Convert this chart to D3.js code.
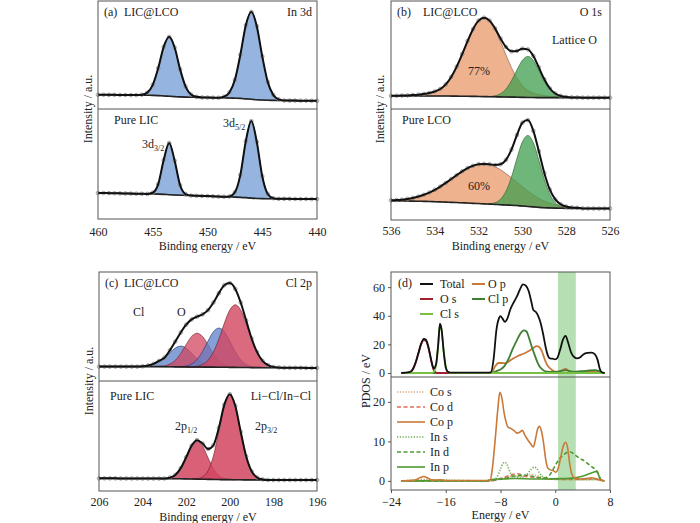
<!DOCTYPE html>
<html><head><meta charset="utf-8">
<script src="https://cdn.jsdelivr.net/npm/d3@7"></script>
<style>body{margin:0;background:#fff}svg{display:block}text{font-family:"Liberation Serif","Times New Roman",serif;fill:#222}</style>
</head><body><svg id="c" width="700" height="523"></svg>
<script>
// ---------- (a) In 3d ----------
const aGrid = [460,459.5,459,458.5,458,457.5,457,456.5,456,455.5,455,454.5,454,453.5,453,452.5,452,451.5,451,450.5,450,449.5,449,448.5,448,447.5,447,446.5,446,445.5,445,444.5,444,443.5,443,442.5,442,441.5,441,440.5,440];
const aTicks = [460,455,450,445,440];
const aTopBg = [13.2,13.2,13.1,13.1,13.0,13.0,12.9,12.9,12.8,12.7,12.6,12.4,12.1,11.8,11.5,11.2,11.0,10.9,10.8,10.7,10.6,10.5,10.4,10.3,10.2,10.0,9.8,9.4,9.0,8.6,8.3,8.1,8.0,7.9,7.9,7.8,7.8,7.7,7.7,7.6,7.6];
const aTop3d32 = [[456,0.45],[455.5,2.5],[455,9.8],[454.5,25.5],[454,45.4],[453.5,55],[453,45.4],[452.5,25.5],[452,9.8],[451.5,2.5],[451,0.45]];
const aTop3d52 = [[448.5,1.05],[448,5.1],[447.5,17],[447,40.5],[446.5,68.1],[446,81],[445.5,68.1],[445,40.5],[444.5,17],[444,5.1],[443.5,1.05]];
const aBotBg = [23.6,23.6,23.5,23.4,23.3,23.2,23.1,23.0,22.9,22.8,22.7,22.6,22.4,22.1,21.8,21.6,21.5,21.3,21.1,21.0,20.8,20.6,20.4,20.2,20.0,19.9,19.7,19.4,19.0,18.7,18.5,18.4,18.4,18.3,18.3,18.3,18.2,18.2,18.2,18.1,18.1];
const aBot3d32 = [[455,1.2],[454.5,9.1],[454,31.2],[453.5,47],[453,31.2],[452.5,9.1],[452,1.2]];
const aBot3d52 = [[448,0.5],[447.5,4.4],[447,20.4],[446.5,51.4],[446,70],[445.5,51.4],[445,20.4],[444.5,4.4],[444,0.5]];

// ---------- (b) O 1s ----------
const bGrid = [536,535.75,535.5,535.25,535,534.75,534.5,534.25,534,533.75,533.5,533.25,533,532.75,532.5,532.25,532,531.75,531.5,531.25,531,530.75,530.5,530.25,530,529.75,529.5,529.25,529,528.75,528.5,528.25,528,527.75,527.5,527.25,527,526.75,526.5,526.25,526];
const bTicks = [536,534,532,530,528,526];
const bTopBg = [12,12,12,12,12,12,12,12,12,12,12,11.95,11.9,11.85,11.8,11.7,11.6,11.5,11.4,11.3,11.2,11.1,11.0,10.9,10.8,10.7,10.6,10.55,10.5,10.5,10.5,10.5,10.5,10.5,10.5,10.5,10.5,10.5,10.5,10.5,10.5];
const bTopSurfO = [[536,0.15],[535.75,0.25],[535.5,0.4],[535.25,0.6],[535,0.9],[534.75,1.3],[534.5,1.9],[534.25,2.8],[534,4.2],[533.75,6.5],[533.5,10.8],[533.25,17.7],[533,27.3],[532.75,38.9],[532.5,51.2],[532.25,62.4],[532,70.2],[531.75,73],[531.5,70.2],[531.25,62.4],[531,51.2],[530.75,38.9],[530.5,27.3],[530.25,17.7],[530,10.8],[529.75,6.5],[529.5,4.2],[529.25,2.8],[529,1.9],[528.75,1.3],[528.5,0.9],[528.25,0.6],[528,0.4],[527.75,0.25],[527.5,0.15]];
const bTopLattO = [[531.5,0.25],[531.25,0.95],[531,2.9],[530.75,7.4],[530.5,15.1],[530.25,25.2],[530,34.3],[529.75,38],[529.5,34.3],[529.25,25.2],[529,15.1],[528.75,7.4],[528.5,2.9],[528.25,0.95],[528,0.25]];
const bBotBg = [17.2,17.2,17.1,17.1,17.0,16.9,16.8,16.7,16.5,16.3,16.1,15.9,15.7,15.5,15.3,15.0,14.8,14.5,14.3,14.0,13.8,13.5,13.3,13.0,12.6,12.2,11.8,11.4,11.1,10.9,10.7,10.6,10.5,10.5,10.5,10.4,10.4,10.4,10.3,10.3,10.3];
const bBotSurfO = [[536,0.5],[535.75,0.8],[535.5,1.2],[535.25,1.9],[535,2.9],[534.75,4.2],[534.5,5.9],[534.25,8.0],[534,10.7],[533.75,13.8],[533.5,17.3],[533.25,21.0],[533,24.7],[532.75,28.3],[532.5,31.5],[532.25,33.9],[532,35.5],[531.75,36],[531.5,35.5],[531.25,33.9],[531,31.5],[530.75,28.3],[530.5,24.7],[530.25,21.0],[530,17.3],[529.75,13.8],[529.5,10.7],[529.25,8.0],[529,5.9],[528.75,4.2],[528.5,2.9],[528.25,1.9],[528,1.2],[527.75,0.8],[527.5,0.5]];
const bBotLattO = [[531.5,0.4],[531.25,1.6],[531,4.9],[530.75,12.4],[530.5,25.4],[530.25,42.5],[530,57.8],[529.75,64],[529.5,57.8],[529.25,42.5],[529,25.4],[528.75,12.4],[528.5,4.9],[528.25,1.6],[528,0.4]];

// ---------- (c) Cl 2p ----------
const cGrid = [206,205.75,205.5,205.25,205,204.75,204.5,204.25,204,203.75,203.5,203.25,203,202.75,202.5,202.25,202,201.75,201.5,201.25,201,200.75,200.5,200.25,200,199.75,199.5,199.25,199,198.75,198.5,198.25,198,197.75,197.5,197.25,197,196.75,196.5,196.25,196];
const cTicks = [206,204,202,200,198,196];
const cTopBg = [13.2,13.2,13.2,13.2,13.2,13.2,13.2,13.2,13.2,13.2,13.2,13.2,13.1,13.1,13.0,13.0,12.9,12.9,12.8,12.8,12.7,12.7,12.6,12.6,12.5,12.5,12.4,12.4,12.3,12.3,12.2,12.2,12.2,12.2,12.1,12.1,12.1,12.1,12.0,12.0,12.0];
const cTopClO1 = [[204,0.3],[203.75,1],[203.5,2.5],[203.25,5],[203,7.5],[202.75,12.6],[202.5,17.2],[202.25,19],[202,17.2],[201.75,12.6],[201.5,7.5],[201.25,3.7],[201,1.5],[200.75,0.5],[200.5,0.1]];
const cTopLi1 = [[203.25,0.2],[203,0.8],[202.75,2.4],[202.5,6.0],[202.25,12.3],[202,20.6],[201.75,28.0],[201.5,31],[201.25,28.0],[201,20.6],[200.75,12.3],[200.5,6.0],[200.25,2.4],[200,0.8],[199.75,0.2]];
const cTopClO2 = [[202.25,0.2],[202,0.9],[201.75,2.8],[201.5,7.0],[201.25,14.3],[201,23.9],[200.75,32.5],[200.5,36],[200.25,32.5],[200,23.9],[199.75,14.3],[199.5,7.0],[199.25,2.8],[199,0.9],[198.75,0.2]];
const cTopLi2 = [[202,0.05],[201.75,0.2],[201.5,0.75],[201.25,2.4],[201,6.3],[200.75,14.0],[200.5,25.9],[200.25,40.4],[200,52.6],[199.75,57.5],[199.5,52.6],[199.25,40.4],[199,25.9],[198.75,14.0],[198.5,6.3],[198.25,2.4],[198,0.75],[197.75,0.2],[197.5,0.05]];
const cBotBg = [11.5,11.5,11.5,11.5,11.4,11.4,11.4,11.4,11.3,11.3,11.3,11.3,11.2,11.2,11.1,11.1,11.0,10.9,10.8,10.7,10.6,10.5,10.4,10.3,10.3,10.2,10.2,10.1,10.1,10.1,10.1,10.0,10.0,10.0,10.0,10.0,10.0,10.0,10.0,10.0,10.0];
const cBot2p12 = [[203.25,0.05],[203,0.2],[202.75,1.0],[202.5,3.5],[202.25,9.7],[202,19.7],[201.75,30.3],[201.5,35],[201.25,30.3],[201,19.7],[200.75,9.7],[200.5,3.5],[200.25,1.0],[200,0.2],[199.75,0.05]];
const cBot2p32 = [[201.75,0.05],[201.5,0.44],[201.25,2.2],[201,7.8],[200.75,21.4],[200.5,43.7],[200.25,67.2],[200,77.5],[199.75,67.2],[199.5,43.7],[199.25,21.4],[199,7.8],[198.75,2.2],[198.5,0.44],[198.25,0.05]];

// ---------- (d) PDOS ----------
const dTicksX = [-24,-16,-8,0,8];
const dTicksTop = [0,20,40,60];
const dTicksBot = [0,10,20];
const dBand = [0.4,3.0];
const dTotal = [[-22.5,0],[-21.3,0.6],[-20.8,2.8],[-20.4,7.5],[-20,14],[-19.6,20.5],[-19.2,23.8],[-18.9,23.2],[-18.5,17.5],[-18.1,8.5],[-17.75,3.2],[-17.4,6.5],[-17.1,20],[-16.85,34.5],[-16.6,30],[-16.3,15],[-16,4],[-15.7,0.8],[-15.3,0.2],[-10,0.2],[-9.4,0.5],[-9,10],[-8.6,30],[-8.2,38.5],[-8,39.8],[-7.7,38],[-7.35,35.8],[-7,38],[-6.6,44],[-6,50],[-5.6,53.5],[-5.2,58],[-4.7,62],[-4.3,61],[-3.9,57.5],[-3.5,50],[-3.2,44],[-2.8,42.5],[-2.5,40],[-2.2,36],[-1.8,28],[-1.4,18],[-1.1,12.5],[-0.8,10.2],[-0.4,10],[0,9.5],[0.3,10.5],[0.7,16],[1.1,23],[1.5,26],[1.9,21],[2.3,14.5],[2.8,11],[3.2,10.2],[3.6,10.8],[4.1,13],[4.7,14],[5.3,14.2],[5.8,13],[6.2,9],[6.5,3],[6.8,0.5],[7.2,0]];
const dOs = [[-22.5,0],[-21.3,0.5],[-20.8,2.5],[-20.4,7],[-20,13.5],[-19.6,20],[-19.2,23],[-18.9,22.5],[-18.5,17],[-18.1,8],[-17.8,2.5],[-17.5,0.5],[-17.2,0],[7.2,0]];
const dCls = [[-22.5,0],[-18,0],[-17.7,1],[-17.4,6],[-17.1,20],[-16.85,34],[-16.6,30],[-16.3,15],[-16,4],[-15.7,0.8],[-15.3,0],[7.2,0]];
const dOp = [[-22.5,0],[-9.6,0],[-9.2,1],[-8.8,4.5],[-8.3,7],[-7.8,7],[-7.3,6.8],[-6.8,8],[-6.2,10],[-5.6,11.5],[-5,12.8],[-4.4,14],[-3.8,15.5],[-3.2,17.5],[-2.7,18.8],[-2.3,18],[-1.9,14.5],[-1.5,9],[-1.1,5],[-0.7,3],[-0.3,1.5],[0.2,0.8],[0.8,1.5],[1.5,2.8],[2.1,1.2],[2.8,0.6],[4,0.8],[5.5,1.2],[6.2,1.5],[6.6,0.5],[7.2,0]];
const dClp = [[-22.5,0],[-9.4,0],[-9,0.5],[-8.5,1.5],[-8,2.5],[-7.4,5],[-6.8,10],[-6.2,17],[-5.6,23],[-5.1,27.5],[-4.6,29.8],[-4.2,29],[-3.8,24],[-3.4,18],[-3,12.5],[-2.6,7.5],[-2.2,4],[-1.7,1.8],[-1.2,1],[-0.5,0.8],[0.5,1],[1.2,1.8],[1.6,2],[2.2,1.2],[3,1],[4,1.3],[5,1.8],[5.8,2],[6.3,1.5],[6.7,0.3],[7.2,0]];
const dCos = [[-22.5,0],[-19,0.4],[-16,0],[-9.5,0],[-8,0.5],[-6,1.3],[-5,1.2],[-3.5,1.6],[-2.5,1.2],[-1.5,0.6],[0,0.4],[2,0.4],[4,0.3],[6,0.4],[7,0]];
const dCod = [[-22.5,0],[-9.5,0],[-8,0.6],[-6.5,1.5],[-5.5,1.8],[-4.5,1.2],[-3.5,1],[-2.5,0.8],[-1,0.5],[1,0.4],[3,0.4],[5,0.5],[6.5,0.4],[7,0]];
const dCop = [[-22.5,0],[-20.5,0.2],[-19.8,0.8],[-19.2,1.1],[-18.6,0.7],[-18,0.2],[-16.8,0.3],[-16,0.1],[-10,0.1],[-9.5,0.3],[-9.2,3],[-8.8,10],[-8.4,18],[-8.1,22.4],[-7.8,21],[-7.5,17.5],[-7.2,15],[-6.9,13.6],[-6.5,13.3],[-6,12.7],[-5.6,12.1],[-5.2,12.3],[-4.8,12.8],[-4.5,11.8],[-4.1,10.6],[-3.6,9.4],[-3.2,8.6],[-2.9,10.5],[-2.6,13],[-2.3,13.8],[-2,12.5],[-1.7,9.5],[-1.4,5.5],[-1.1,3.3],[-0.7,2.8],[-0.3,2.6],[0.1,2.2],[0.4,3],[0.8,6],[1.2,9],[1.5,9.8],[1.8,8.5],[2.1,4.5],[2.4,1.8],[2.8,0.8],[3.5,0.5],[4.5,0.6],[5.3,0.8],[6,0.5],[6.6,0.2],[7.2,0]];
const dIns = [[-22.5,0],[-16.8,0.2],[-10,0],[-9,0.2],[-8.5,1],[-8,3],[-7.6,4.5],[-7.3,4.7],[-7,4],[-6.6,2.2],[-6.2,1.3],[-5.6,1],[-5,0.9],[-4.2,1.5],[-3.6,2.8],[-3.1,3.5],[-2.7,3.2],[-2.3,2],[-1.8,1],[-1,0.5],[0,0.4],[2,0.4],[4,0.3],[6,0.3],[7,0]];
const dInd = [[-22.5,0],[-10,0],[-9.4,0.2],[-8,0.4],[-6,1.2],[-4.5,1.5],[-3,1],[-1.5,0.8],[-0.8,1.5],[-0.3,3],[0.2,4.5],[0.7,5.8],[1.2,6.6],[1.7,7.2],[2.1,7.4],[2.6,7],[3.1,6.3],[3.7,5.6],[4.3,5],[4.9,4.2],[5.4,3.5],[5.8,3],[6.2,2],[6.6,0.5],[7,0]];
const dInp = [[-22.5,0],[-10,0],[-9.5,0.3],[-8,0.5],[-6,0.6],[-3,0.5],[-1,0.5],[1,0.6],[2.5,0.7],[3.5,1],[4.5,1.5],[5.3,2],[5.8,2.3],[6.1,2.5],[6.4,1.2],[6.7,0.2],[7.2,0]];

const svg = d3.select('#c');
const FONT = 12;

function idx(grid, x){ return grid.findIndex(g => Math.abs(g - x) < 1e-6); }
function peakAt(peak, x){ const p = peak.find(d => Math.abs(d[0] - x) < 1e-6); return p ? p[1] : 0; }

function xpsSub(g, x, y, grid, bg, peaks){
  const area = d3.area().x(d => x(d[0])).y0(d => y(d[1])).y1(d => y(d[2])).curve(d3.curveMonotoneX);
  const line = d3.line().x(d => x(d[0])).y(d => y(d[1])).curve(d3.curveMonotoneX);
  peaks.forEach(p => {
    const pts = p.data.map(d => { const b = bg[idx(grid, d[0])]; return [d[0], b, b + d[1]]; });
    g.append('path').attr('d', area(pts)).attr('fill', p.fill).attr('fill-opacity', p.op)
      .attr('stroke', p.stroke).attr('stroke-width', 0.8).attr('stroke-opacity', 0.8);
  });
  g.append('path').attr('d', line(grid.map((e, i) => [e, bg[i]]))).attr('fill', 'none')
    .attr('stroke', '#222').attr('stroke-width', 1.6);
  const env = grid.map((e, i) => [e, bg[i] + d3.sum(peaks, p => peakAt(p.data, e))]);
  g.selectAll(null).data(env).enter().append('circle')
    .attr('cx', d => x(d[0])).attr('cy', d => y(d[1])).attr('r', 1.8)
    .attr('fill', 'none').attr('stroke', '#8a8a8a').attr('stroke-width', 0.8);
  g.append('path').attr('d', line(env)).attr('fill', 'none').attr('stroke', '#111').attr('stroke-width', 2);
}

function frame(L, R, T, M, B){
  svg.append('rect').attr('x', L).attr('y', T).attr('width', R - L).attr('height', B - T)
    .attr('fill', 'none').attr('stroke', '#555').attr('stroke-width', 1);
  svg.append('line').attr('x1', L).attr('x2', R).attr('y1', M).attr('y2', M)
    .attr('stroke', '#555').attr('stroke-width', 1);
}

function xAxis(x, B, ticks, pad, tickLen){
  const ax = d3.axisBottom(x).tickValues(ticks).tickSizeInner(tickLen).tickSizeOuter(0).tickPadding(pad);
  const g = svg.append('g').attr('transform', `translate(0,${B})`).call(ax);
  g.select('.domain').remove();
  g.selectAll('text').attr('font-size', FONT).attr('font-family', '"Liberation Serif",serif').attr('fill', '#222');
  g.selectAll('line').attr('stroke', '#555');
}

function label(txt, x, y, anchor, size){
  return svg.append('text').attr('x', x).attr('y', y).attr('text-anchor', anchor || 'start')
    .attr('font-size', size || FONT).text(txt);
}
function subLabel(main, sub, x, y){
  const t = svg.append('text').attr('x', x).attr('y', y).attr('font-size', FONT);
  t.append('tspan').text(main);
  t.append('tspan').attr('font-size', 8).attr('dy', 3).text(sub);
}
function yTitle(txt, x, yc){
  svg.append('text').attr('transform', `translate(${x},${yc}) rotate(-90)`).attr('text-anchor', 'middle')
    .attr('font-size', FONT).text(txt);
}

// ===== Panel (a) =====
{
  const L = 98, R = 317, T = 1, M = 109, B = 219;
  const x = d3.scaleLinear().domain([460, 440]).range([L, R]);
  const yT = d3.scaleLinear().domain([0, 100]).range([M, T]);
  const yB = d3.scaleLinear().domain([0, 100]).range([B, M]);
  const blue = '#89acdb', edge = '#1d2d55';
  xpsSub(svg.append('g'), x, yT, aGrid, aTopBg, [
    {data: aTop3d32, fill: blue, op: 0.9, stroke: edge},
    {data: aTop3d52, fill: blue, op: 0.9, stroke: edge}]);
  xpsSub(svg.append('g'), x, yB, aGrid, aBotBg, [
    {data: aBot3d32, fill: blue, op: 0.9, stroke: edge},
    {data: aBot3d52, fill: blue, op: 0.9, stroke: edge}]);
  frame(L, R, T, M, B);
  xAxis(x, B, aTicks, 8, 0);
  label('Binding energy / eV', (L + R) / 2, 250, 'middle');
  yTitle('Intensity / a.u.', 92, M);
  label('(a)', 104, 16); label('LIC@LCO', 124, 16);
  label('In 3d', 312, 16, 'end');
  label('Pure LIC', 114, 124);
  subLabel('3d', '3/2', 142, 148);
  subLabel('3d', '5/2', 223, 127);
}

// ===== Panel (b) =====
{
  const L = 391, R = 610, T = 1, M = 109, B = 220;
  const x = d3.scaleLinear().domain([536, 526]).range([L, R]);
  const yT = d3.scaleLinear().domain([0, 100]).range([M, T]);
  const yB = d3.scaleLinear().domain([0, 100]).range([B, M]);
  const orange = '#eb9f72', green = '#3f9e4e';
  xpsSub(svg.append('g'), x, yT, bGrid, bTopBg, [
    {data: bTopSurfO, fill: orange, op: 0.8, stroke: '#8a5a3a'},
    {data: bTopLattO, fill: green, op: 0.75, stroke: '#2f5f2f'}]);
  xpsSub(svg.append('g'), x, yB, bGrid, bBotBg, [
    {data: bBotSurfO, fill: orange, op: 0.8, stroke: '#8a5a3a'},
    {data: bBotLattO, fill: green, op: 0.75, stroke: '#2f5f2f'}]);
  frame(L, R, T, M, B);
  xAxis(x, B, bTicks, 6, 0);
  label('Binding energy / eV', (L + R) / 2, 250, 'middle');
  yTitle('Intensity / a.u.', 384, M);
  label('(b)', 397, 16); label('LIC@LCO', 423, 16);
  label('O 1s', 602, 16, 'end');
  label('Lattice O', 552, 44);
  label('77%', 479, 75, 'middle');
  label('Pure LCO', 402, 124);
  label('60%', 479, 190, 'middle');
}

// ===== Panel (c) =====
{
  const L = 99, R = 317, T = 272, M = 381, B = 491;
  const x = d3.scaleLinear().domain([206, 196]).range([L, R]);
  const yT = d3.scaleLinear().domain([0, 100]).range([M, T]);
  const yB = d3.scaleLinear().domain([0, 100]).range([B, M]);
  const red = '#d2455f', blue = '#5b80c8';
  xpsSub(svg.append('g'), x, yT, cGrid, cTopBg, [
    {data: cTopClO1, fill: blue, op: 0.75, stroke: '#26356b'},
    {data: cTopLi1, fill: red, op: 0.75, stroke: '#6b1f2c'},
    {data: cTopClO2, fill: blue, op: 0.75, stroke: '#26356b'},
    {data: cTopLi2, fill: red, op: 0.8, stroke: '#6b1f2c'}]);
  xpsSub(svg.append('g'), x, yB, cGrid, cBotBg, [
    {data: cBot2p12, fill: red, op: 0.85, stroke: '#6b1f2c'},
    {data: cBot2p32, fill: red, op: 0.85, stroke: '#6b1f2c'}]);
  frame(L, R, T, M, B);
  xAxis(x, B, cTicks, 6, 0);
  label('Binding energy / eV', (L + R) / 2, 521, 'middle');
  yTitle('Intensity / a.u.', 93, M);
  label('(c)', 105, 287); label('LIC@LCO', 124, 287);
  label('Cl 2p', 312, 287, 'end');
  label('Cl', 133, 316); label('O', 177, 316);
  label('Pure LIC', 110, 400);
  label('Li\u2212Cl/In\u2212Cl', 311, 400, 'end');
  subLabel('2p', '1/2', 175, 430);
  subLabel('2p', '3/2', 255, 430);
}

// ===== Panel (d) =====
{
  const L = 391, R = 610, T = 272, M = 377, B = 490;
  const x = d3.scaleLinear().domain([-24, 8]).range([L, R]);
  const yT = d3.scaleLinear().domain([-2.8, 70.6]).range([M, T]);
  const yB = d3.scaleLinear().domain([-2.3, 26.3]).range([B, M]);
  svg.append('rect').attr('x', x(dBand[0])).attr('y', T).attr('width', x(dBand[1]) - x(dBand[0]))
    .attr('height', B - T).attr('fill', '#b6e0b3');
  const lineT = d3.line().x(d => x(d[0])).y(d => yT(d[1])).curve(d3.curveMonotoneX);
  const lineB = d3.line().x(d => x(d[0])).y(d => yB(d[1])).curve(d3.curveMonotoneX);
  const topSeries = [
    {data: dOp, color: '#c97a3b'},
    {data: dClp, color: '#3f7f34'},
    {data: dOs, color: '#a3202f'},
    {data: dCls, color: '#78c043'},
    {data: dTotal, color: '#111'}];
  topSeries.forEach(s => svg.append('path').attr('d', lineT(s.data)).attr('fill', 'none')
    .attr('stroke', s.color).attr('stroke-width', 1.8));
  const botSeries = [
    {data: dCos, color: '#d9a678', dash: '1.2,1.6'},
    {data: dCod, color: '#e06b5a', dash: '4,2.5'},
    {data: dIns, color: '#6aab4a', dash: '1.2,1.6'},
    {data: dInd, color: '#4e9a35', dash: '4,2.5'},
    {data: dInp, color: '#4f9a30', dash: null},
    {data: dCop, color: '#c97a3b', dash: null}];
  botSeries.forEach(s => svg.append('path').attr('d', lineB(s.data)).attr('fill', 'none')
    .attr('stroke', s.color).attr('stroke-width', 1.6).attr('stroke-dasharray', s.dash));
  frame(L, R, T, M, B);
  xAxis(x, B, dTicksX, 4, 3);
  [[yT, dTicksTop], [yB, dTicksBot]].forEach(([ys, tv]) => {
    const g = svg.append('g').attr('transform', `translate(${L},0)`)
      .call(d3.axisLeft(ys).tickValues(tv).tickSizeInner(3).tickSizeOuter(0).tickPadding(3));
    g.select('.domain').remove();
    g.selectAll('text').attr('font-size', FONT).attr('font-family', '"Liberation Serif",serif').attr('fill', '#222');
    g.selectAll('line').attr('stroke', '#555');
  });
  label('Energy / eV', (L + R) / 2, 519, 'middle');
  yTitle('PDOS / eV', 370, 381);
  label('(d)', 398, 287);
  const leg1 = [['Total', '#111', 420, 440, 284], ['O s', '#a3202f', 420, 440, 299], ['Cl s', '#78c043', 420, 440, 314],
                ['O p', '#c97a3b', 472, 488, 284], ['Cl p', '#3f7f34', 472, 488, 299]];
  leg1.forEach(([t, c, lx, tx, yy]) => {
    svg.append('line').attr('x1', lx).attr('x2', lx + 13).attr('y1', yy).attr('y2', yy).attr('stroke', c).attr('stroke-width', 2);
    label(t, tx, yy + 4);
  });
  const leg2 = [['Co s', '#d9a678', '1.2,1.6', 392], ['Co d', '#e06b5a', '4,2.5', 407], ['Co p', '#c97a3b', null, 422],
                ['In s', '#6aab4a', '1.2,1.6', 437], ['In d', '#4e9a35', '4,2.5', 452], ['In p', '#4f9a30', null, 467]];
  leg2.forEach(([t, c, dash, yy]) => {
    svg.append('line').attr('x1', 397).attr('x2', 425).attr('y1', yy).attr('y2', yy).attr('stroke', c)
      .attr('stroke-width', 1.6).attr('stroke-dasharray', dash);
    label(t, 430, yy + 4);
  });
}
</script></body></html>
